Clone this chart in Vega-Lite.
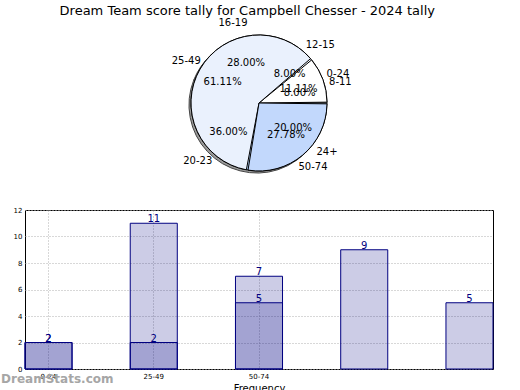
{
  "$schema": "https://vega.github.io/schema/vega-lite/v6.json",
  "padding": {"left": 0, "right": 20, "top": 5, "bottom": 0},
  "config": {"font": "DejaVu Sans", "view": {"stroke": null}},
  "title": {"text": "Dream Team score tally for Campbell Chesser - 2024 tally", "font": "DejaVu Sans", "fontSize": 13, "fontWeight": "normal", "color": "black", "anchor": "middle", "offset": 0},
  "datasets": {
    "pie1": [
      {"k": 1, "bin": "0-24", "count": 2, "pct": "11.11%"},
      {"k": 2, "bin": "25-49", "count": 11, "pct": "61.11%"},
      {"k": 3, "bin": "50-74", "count": 5, "pct": "27.78%"}
    ],
    "pie2": [
      {"k": 1, "bin": "8-11", "count": 2, "pct": "8.00%"},
      {"k": 2, "bin": "12-15", "count": 2, "pct": "8.00%"},
      {"k": 3, "bin": "16-19", "count": 7, "pct": "28.00%"},
      {"k": 4, "bin": "20-23", "count": 9, "pct": "36.00%"},
      {"k": 5, "bin": "24+", "count": 5, "pct": "20.00%"}
    ],
    "bars": [
      {"series": "first", "pos": 0, "count": 2},
      {"series": "first", "pos": 1, "count": 11},
      {"series": "first", "pos": 2, "count": 5},
      {"series": "second", "pos": 0, "count": 2},
      {"series": "second", "pos": 1, "count": 2},
      {"series": "second", "pos": 2, "count": 7},
      {"series": "second", "pos": 3, "count": 9},
      {"series": "second", "pos": 4, "count": 5}
    ]
  },
  "spacing": 32,
  "bounds": "flush",
  "vconcat": [
    {
      "width": 468,
      "height": 150,
      "layer": [
        {
          "data": {"name": "pie2"},
          "mark": {"type": "arc", "radius": 68, "stroke": "#444444", "strokeWidth": 1, "xOffset": -2, "yOffset": 2},
          "encoding": {
            "theta": {"field": "count", "type": "quantitative", "stack": true, "scale": {"range": [1.5708, -4.7124]}},
            "order": {"field": "k", "type": "quantitative"},
            "color": {"field": "bin", "type": "nominal", "legend": null, "scale": {"domain": ["8-11", "12-15", "16-19", "20-23", "24+"], "range": ["#9a9a9a", "#9a9a9a", "#9a9a9a", "#9a9a9a", "#9a9a9a"]}}
          }
        },
        {
          "data": {"name": "pie2"},
          "mark": {"type": "arc", "radius": 68, "stroke": "black", "strokeWidth": 1},
          "encoding": {
            "theta": {"field": "count", "type": "quantitative", "stack": true, "scale": {"range": [1.5708, -4.7124]}},
            "order": {"field": "k", "type": "quantitative"},
            "color": {"field": "bin", "type": "nominal", "legend": null, "scale": {"domain": ["8-11", "12-15", "16-19", "20-23", "24+"], "range": ["#ffffff", "#f4f8fe", "#eaf1fd", "#b3d3fb", "#c2d8fc"]}}
          }
        },
        {
          "data": {"name": "pie1"},
          "mark": {"type": "arc", "radius": 68, "stroke": "black", "strokeWidth": 1, "padAngle": 0.025},
          "encoding": {
            "theta": {"field": "count", "type": "quantitative", "stack": true, "scale": {"range": [1.5708, -4.7124]}},
            "order": {"field": "k", "type": "quantitative"},
            "color": {"field": "bin", "type": "nominal", "legend": null, "scale": {"domain": ["0-24", "25-49", "50-74"], "range": ["#ffffff", "#eaf1fd", "#c2d8fc"]}}
          }
        },
        {
          "data": {"name": "pie2"},
          "mark": {"type": "text", "radius": 84, "fontSize": 10, "color": "black"},
          "encoding": {
            "theta": {"field": "count", "type": "quantitative", "stack": true, "scale": {"range": [1.5708, -4.7124]}},
            "order": {"field": "k", "type": "quantitative"},
            "text": {"field": "bin", "type": "nominal"}
          }
        },
        {
          "data": {"name": "pie1"},
          "mark": {"type": "text", "radius": 84, "fontSize": 10, "color": "black"},
          "encoding": {
            "theta": {"field": "count", "type": "quantitative", "stack": true, "scale": {"range": [1.5708, -4.7124]}},
            "order": {"field": "k", "type": "quantitative"},
            "text": {"field": "bin", "type": "nominal"}
          }
        },
        {
          "data": {"name": "pie2"},
          "mark": {"type": "text", "radius": 42, "fontSize": 10, "color": "black"},
          "encoding": {
            "theta": {"field": "count", "type": "quantitative", "stack": true, "scale": {"range": [1.5708, -4.7124]}},
            "order": {"field": "k", "type": "quantitative"},
            "text": {"field": "pct", "type": "nominal"}
          }
        },
        {
          "data": {"name": "pie1"},
          "mark": {"type": "text", "radius": 42, "fontSize": 10, "color": "black"},
          "encoding": {
            "theta": {"field": "count", "type": "quantitative", "stack": true, "scale": {"range": [1.5708, -4.7124]}},
            "order": {"field": "k", "type": "quantitative"},
            "text": {"field": "pct", "type": "nominal"}
          }
        }
      ],
      "resolve": {"scale": {"theta": "independent", "color": "independent"}}
    },
    {
      "width": 468,
      "height": 159,
      "data": {"name": "bars"},
      "view": {"stroke": "black", "strokeWidth": 1},
      "title": {"text": "DreamStats.com", "orient": "bottom", "anchor": "start", "frame": "bounds", "fontSize": 12, "fontWeight": "bold", "color": "#a6a6a6", "offset": -19, "dx": -12},
      "encoding": {
        "x": {
          "field": "pos", "type": "ordinal",
          "scale": {"paddingInner": 0.553, "paddingOuter": 0},
          "axis": {"values": [0, 1, 2], "labelExpr": "['0-24','25-49','50-74'][datum.value]", "bandPosition": 0.5, "grid": true, "gridDash": [1, 2], "gridColor": "#b0b0b0", "ticks": false, "labelFontSize": 7, "labelColor": "black", "labelPadding": 3, "labelAngle": 0, "domain": false, "title": "Frequency", "titleFontSize": 10, "titleFontWeight": "normal", "titlePadding": 4}
        },
        "y": {
          "field": "count", "type": "quantitative",
          "scale": {"domain": [0, 12]},
          "axis": {"values": [0, 2, 4, 6, 8, 10, 12], "grid": true, "gridDash": [1, 2], "gridColor": "#b0b0b0", "ticks": false, "labelFontSize": 7, "labelColor": "black", "labelPadding": 3, "domain": false, "title": null}
        }
      },
      "layer": [
        {
          "mark": {"type": "bar", "fill": "navy", "fillOpacity": 0.2, "stroke": "navy", "strokeWidth": 1},
          "encoding": {"detail": {"field": "series"}, "y": {"field": "count", "type": "quantitative", "stack": null}}
        },
        {
          "mark": {"type": "text", "color": "navy", "fontSize": 10, "baseline": "bottom", "dy": 1},
          "encoding": {"detail": {"field": "series"}, "y": {"field": "count", "type": "quantitative", "stack": null}, "text": {"field": "count", "type": "quantitative"}}
        }
      ]
    }
  ]
}
